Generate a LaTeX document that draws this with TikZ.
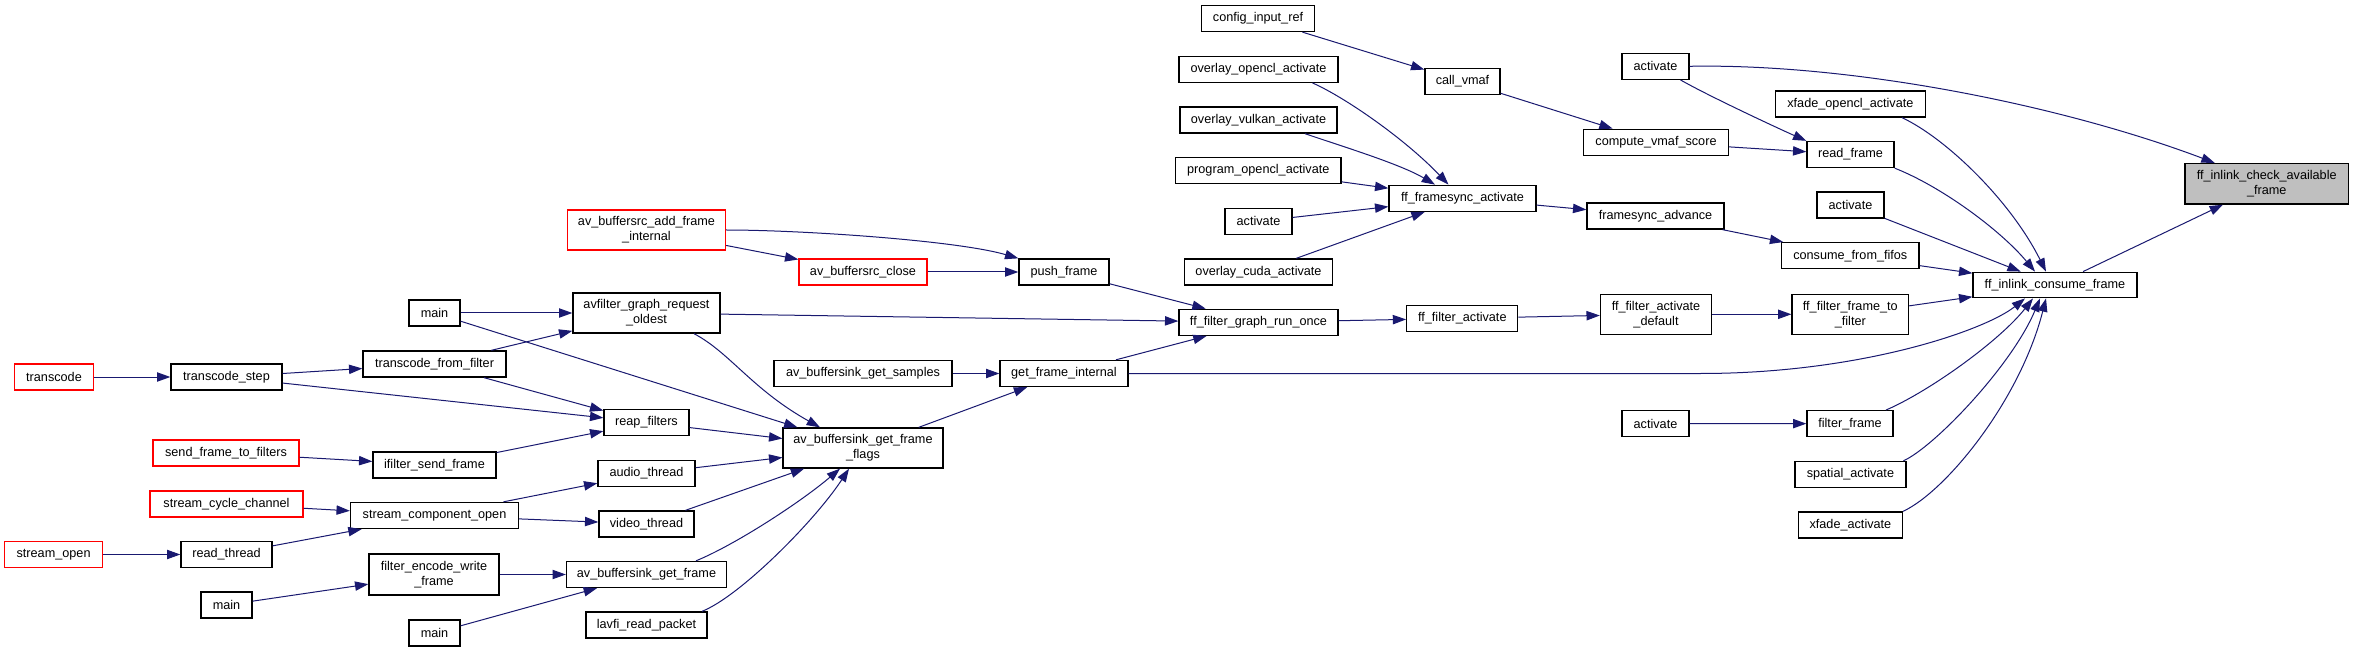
\documentclass[tikz,border=0pt]{standalone}
\usepackage{fontspec}
\setmainfont{Liberation Sans}
\usetikzlibrary{arrows.meta,calc}
\definecolor{edgec}{RGB}{25,25,112}
\definecolor{mainfill}{RGB}{191,191,191}
\begin{document}
\begin{tikzpicture}[x=0.75pt,y=-0.75pt,
  box/.style={draw=black,line width=1pt,fill=white,inner sep=0pt,align=center,font=\fontsize{9.5}{11.25}\selectfont},
  redbox/.style={box,draw=red},
  sz/.style 2 args={minimum width=#1*0.75pt,minimum height=#2*0.75pt},
  e/.style={draw=edgec,line width=0.75pt,-{Triangle[length=10pt,width=7pt]}},
]
\fill[white] (0,0) rectangle (2353,652);
\useasboundingbox (0,0) rectangle (2353,652);

\node[redbox,sz={79}{26}] (transcode) at (54,377) {transcode};
\node[box,sz={111}{26}] (tstep) at (226.5,377) {transcode\_step};
\node[box,sz={51}{26}] (main1) at (434.5,313) {main};
\node[box,sz={143}{26}] (tff) at (434.5,364) {transcode\_from\_filter};
\node[redbox,sz={146}{26}] (sftf) at (226,453) {send\_frame\_to\_filters};
\node[box,sz={123}{26}] (ifsf) at (434.5,465) {ifilter\_send\_frame};
\node[redbox,sz={153}{26}] (scc) at (226.5,504) {stream\_cycle\_channel};
\node[box,sz={168}{26}] (sco) at (434.5,515.5) {stream\_component\_open};
\node[redbox,sz={98}{26}] (sopen) at (53.6,554.5) {stream\_open};
\node[box,sz={91}{26}] (rthread) at (226.5,554.5) {read\_thread};
\node[box,sz={130}{41}] (few) at (434,574.5) {filter\_encode\_write\\\_frame};
\node[box,sz={51}{26}] (main2) at (226.5,605) {main};
\node[box,sz={51}{26}] (main3) at (434.5,633) {main};
\node[redbox,sz={158}{40}] (bsrcadd) at (646.5,230) {av\_buffersrc\_add\_frame\\\_internal};
\node[redbox,sz={128}{26}] (bsrcclose) at (863,272) {av\_buffersrc\_close};
\node[box,sz={90}{26}] (push) at (1064,272) {push\_frame};
\node[box,sz={147}{40}] (agro) at (646.5,313) {avfilter\_graph\_request\\\_oldest};
\node[box,sz={178}{26}] (bgs) at (863,373.5) {av\_buffersink\_get\_samples};
\node[box,sz={128}{26}] (gfi) at (1064,373.5) {get\_frame\_internal};
\node[box,sz={85}{26}] (reap) at (646.5,422.5) {reap\_filters};
\node[box,sz={160}{40}] (bgff) at (863,448) {av\_buffersink\_get\_frame\\\_flags};
\node[box,sz={97}{26}] (audio) at (646.5,473.5) {audio\_thread};
\node[box,sz={95}{26}] (video) at (646.5,524) {video\_thread};
\node[box,sz={160}{26}] (bgf) at (646.5,574.5) {av\_buffersink\_get\_frame};
\node[box,sz={121}{26}] (lavfi) at (646.5,625) {lavfi\_read\_packet};
\node[box,sz={112.5}{26}] (cir) at (1258,18.5) {config\_input\_ref};
\node[box,sz={159}{26}] (ooa) at (1258.5,69.3) {overlay\_opencl\_activate};
\node[box,sz={75}{26}] (cvmaf) at (1462.5,81.3) {call\_vmaf};
\node[box,sz={67}{26}] (atop) at (1655.5,66.3) {activate};
\node[box,sz={157}{26}] (ova) at (1258.5,120) {overlay\_vulkan\_activate};
\node[box,sz={144.5}{26}] (cvs) at (1656,142.3) {compute\_vmaf\_score};
\node[box,sz={165.5}{26}] (poa) at (1258.3,170.5) {program\_opencl\_activate};
\node[box,sz={147}{26}] (ffsa) at (1462.5,198.3) {ff\_framesync\_activate};
\node[box,sz={67}{26}] (aml) at (1258.5,221.3) {activate};
\node[box,sz={137}{26}] (fsa) at (1655.5,216) {framesync\_advance};
\node[box,sz={148}{26}] (oca) at (1258.5,272) {overlay\_cuda\_activate};
\node[box,sz={159}{26}] (fgro) at (1258.5,322.3) {ff\_filter\_graph\_run\_once};
\node[box,sz={111}{26}] (ffa) at (1462.3,318.3) {ff\_filter\_activate};
\node[box,sz={111}{40}] (ffad) at (1656,314.3) {ff\_filter\_activate\\\_default};
\node[box,sz={67}{26}] (abot) at (1655.5,423.5) {activate};
\node[box,sz={150}{26}] (xoa) at (1850.4,104) {xfade\_opencl\_activate};
\node[box,sz={87}{26}] (rf) at (1850.5,154.5) {read\_frame};
\node[box,fill=mainfill,sz={163.5}{40.5}] (ffcaf) at (2266.7,183.8) {ff\_inlink\_check\_available\\\_frame};
\node[box,sz={67}{26}] (aright) at (1850.5,205) {activate};
\node[box,sz={137.5}{26}] (cff) at (1850.3,255.7) {consume\_from\_fifos};
\node[box,sz={164}{25.5}] (ffic) at (2055,285) {ff\_inlink\_consume\_frame};
\node[box,sz={116.5}{40}] (ffft) at (1850.3,314.3) {ff\_filter\_frame\_to\\\_filter};
\node[box,sz={86}{26}] (ffr) at (1850,423.7) {filter\_frame};
\node[box,sz={111}{26}] (spat) at (1850.4,474.5) {spatial\_activate};
\node[box,sz={104}{26}] (xfa) at (1850.4,525) {xfade\_activate};

\draw[e] (transcode) -- (tstep);
\draw[e] (tstep) -- (tff);
\draw[e] (tstep) -- (reap);
\draw[e] (tff) -- (agro);
\draw[e] (tff) -- (reap);
\draw[e] (main1) -- (agro);
\draw[e] (main1) -- (bgff);
\draw[e] (sftf) -- (ifsf);
\draw[e] (ifsf) -- (reap);
\draw[e] (scc) -- (sco);
\draw[e] (sopen) -- (rthread);
\draw[e] (rthread) -- (sco);
\draw[e] (sco) -- (audio);
\draw[e] (sco) -- (video);
\draw[e] (main2) -- (few);
\draw[e] (few) -- (bgf);
\draw[e] (main3) -- (bgf);
\draw[e] (bsrcadd.east) .. controls +(75,0) and +(-62,-18) .. (push.north west);
\draw[e] (bsrcadd) -- (bsrcclose);
\draw[e] (bsrcclose) -- (push);
\draw[e] (push) -- (fgro);
\draw[e] (agro) -- (fgro);
\draw[e] ($(agro.south)+(47.5,0)$) .. controls +(36,19) and +(-68,-38) .. ($(bgff.north)+(-43,0)$);
\draw[e] (reap) -- (bgff);
\draw[e] (audio) -- (bgff);
\draw[e] (video) -- (bgff);
\draw[e] ($(bgf.north)+(49.5,0)$) .. controls +(39,-16) and +(-40,34) .. ($(bgff.south)+(-23,0)$);
\draw[e] ($(lavfi.north)+(55.5,0)$) .. controls +(38,-15) and +(-34,52) .. ($(bgff.south)+(-14,0)$);
\draw[e] (bgs) -- (gfi);
\draw[e] (bgff) -- (gfi);
\draw[e] (gfi) -- (fgro);
\draw[e] (gfi.east) -- ++(572,0) .. controls +(160,0) and +(-40,32) .. ($(ffic.south)+(-30,0)$);
\draw[e] (cir) -- (cvmaf);
\draw[e] (cvmaf) -- (cvs);
\draw[e] ($(ooa.south)+(54,0)$) .. controls +(32,14) and +(-43.5,-45.7) .. ($(ffsa.north)+(-14,0)$);
\draw[e] ($(ova.south)+(46.5,0)$) .. controls +(35,12) and +(-35,-20.7) .. ($(ffsa.north)+(-27.5,0)$);
\draw[e] (poa) -- (ffsa);
\draw[e] (aml) -- (ffsa);
\draw[e] (oca) -- (ffsa);
\draw[e] (ffsa) -- (fsa);
\draw[e] (fgro) -- (ffa);
\draw[e] (ffa) -- (ffad);
\draw[e] (ffad) -- (ffft);
\draw[e] (atop.east) .. controls +(161,-3) and +(-155,-58.5) .. ($(ffcaf.north)+(-52,0)$);
\draw[e] ($(atop.south)+(25,0)$) .. controls +(30,17) and +(-25,-11) .. (rf.north west);
\draw[e] (cvs) -- (rf);
\draw[e] (fsa) -- (cff);
\draw[e] ($(xoa.south)+(51.6,0)$) .. controls +(43,20) and +(-36,-72) .. ($(ffic.north)+(-9,0)$);
\draw[e] (rf.south east) .. controls +(46,18) and +(-35,-42) .. ($(ffic.north)+(-20,0)$);
\draw[e] (aright) -- (ffic);
\draw[e] (cff) -- (ffic);
\draw[e] (ffft) -- (ffic);
\draw[e] ($(ffr.north)+(36,0)$) .. controls +(44,-19) and +(-33,42) .. ($(ffic.south)+(-22,0)$);
\draw[e] ($(spat.north)+(53,0)$) .. controls +(31,-14) and +(-28,67) .. ($(ffic.south)+(-15,0)$);
\draw[e] (xfa.north east) .. controls +(43,-20) and +(-26,102) .. ($(ffic.south)+(-9,0)$);
\draw[e] (ffic) -- (ffcaf);
\draw[e] (abot) -- (ffr);
\end{tikzpicture}
\end{document}
